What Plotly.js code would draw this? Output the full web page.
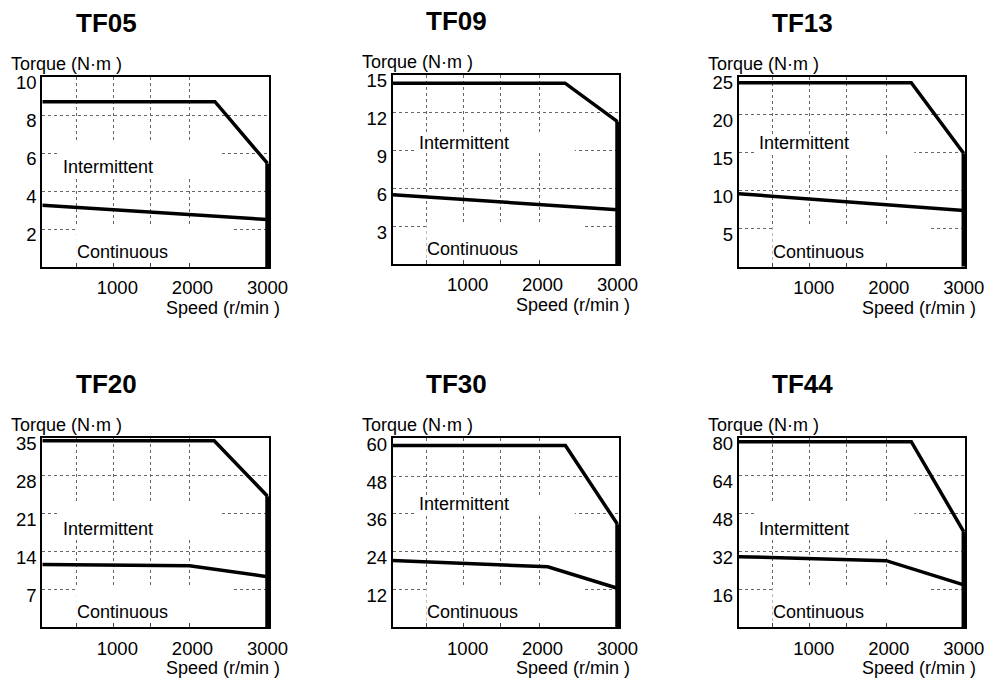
<!DOCTYPE html>
<html>
<head>
<meta charset="utf-8">
<script src="https://cdn.plot.ly/plotly-3.0.1.min.js"></script>
<style>html,body{margin:0;padding:0;background:#fff;}#chart{width:993px;height:680px;}</style>
</head>
<body>
<div id="chart"></div>
<script>
// ---------- data ----------
const models = ['TF05', 'TF09', 'TF13', 'TF20', 'TF30', 'TF44'];
const speedTicks = [1000, 2000, 3000];
const speedTickText = ['1000', '2000', '3000'];
const gridSpeeds = [455, 945, 1440, 1965];
const torqueMax = [10, 15, 25, 35, 60, 80];
const torqueTicks = [
  [2, 4, 6, 8, 10],
  [3, 6, 9, 12, 15],
  [5, 10, 15, 20, 25],
  [7, 14, 21, 28, 35],
  [12, 24, 36, 48, 60],
  [16, 32, 48, 64, 80]
];
const intermittentSpeed = [
  [0, 2300, 3000],
  [0, 2300, 3000],
  [0, 2300, 3000],
  [0, 2290, 3000],
  [0, 2305, 3000],
  [0, 2300, 3000]
];
const intermittentTorque = [
  [8.7, 8.7, 5.45],
  [14.35, 14.35, 11.3],
  [24.2, 24.2, 14.9],
  [34.45, 34.45, 24.2],
  [57.7, 57.7, 32.7],
  [78.3, 78.3, 40.3]
];
const continuousSpeed = [
  [0, 3000],
  [0, 3000],
  [0, 3000],
  [0, 1960, 3000],
  [0, 2070, 3000],
  [0, 1965, 3000]
];
const continuousTorque = [
  [3.25, 2.5],
  [5.5, 4.3],
  [9.6, 7.4],
  [11.6, 11.35, 9.35],
  [21.2, 19.2, 12.4],
  [29.8, 28.1, 17.9]
];
const regionLabels = ['Intermittent', 'Continuous'];
const yAxisLabel = 'Torque (N\u00b7m )';
const xAxisLabel = 'Speed (r/min )';

// ---------- layout helpers (positions only) ----------
const W = 993, H = 680;
const boxes = [ // [left, right, top, bottom] in px
  [42.3, 269, 77, 267],
  [392.7, 619, 75, 264],
  [738.7, 965.3, 76.7, 266.7],
  [42.3, 269, 437.7, 627.3],
  [392.7, 619, 438.3, 627.3],
  [738.7, 965.3, 437.7, 627.3]
];
// intermittent label: [x rpm, y fraction]; mask: [x0, x1, yf0, yf1]
const interPos = [[870, 0.526], [945, 0.64], [867, 0.65], [874, 0.517], [945, 0.652], [867, 0.517]];
const interMask = [[236, 2364, 0.475, 0.668], [325, 2430, 0.587, 0.693], [239, 2341, 0.597, 0.693],
                   [235, 2359, 0.466, 0.654], [325, 2430, 0.59, 0.70], [239, 2341, 0.466, 0.654]];
const contPos = [1065, 0.08];
const contMask = [450, 2550, 0, 0.215];

const FONT = 'Liberation Sans, Arial, sans-serif';
const traces = [];
const shapes = [];
const annotations = [];
const layout = {
  width: W, height: H,
  margin: {l: 0, r: 0, t: 0, b: 0},
  paper_bgcolor: '#fff', plot_bgcolor: '#fff',
  showlegend: false,
  font: {family: FONT, size: 18, color: '#000'},
  shapes: shapes, annotations: annotations
};

models.forEach((name, i) => {
  const n = i + 1;
  const xa = 'x' + (n === 1 ? '' : n), ya = 'y' + (n === 1 ? '' : n);
  const xk = 'xaxis' + (n === 1 ? '' : n), yk = 'yaxis' + (n === 1 ? '' : n);
  const b = boxes[i];
  const ymax = torqueMax[i];
  layout[xk] = {
    domain: [b[0] / W, b[1] / W], anchor: ya,
    range: [0, 3020], fixedrange: true,
    tickmode: 'array', tickvals: speedTicks, ticktext: speedTickText,
    showgrid: false, zeroline: false,
    showline: true, mirror: true, linecolor: '#000', linewidth: 2,
    ticks: '', tickfont: {size: 18.5, family: FONT, color: '#000'},
    ticklabelstandoff: 3,
    minor: {tickmode: 'array', tickvals: gridSpeeds, showgrid: true, gridcolor: '#666', griddash: 'dot',
            gridwidth: 1, ticks: 'inside', ticklen: 4, tickcolor: '#444', tickwidth: 1}
  };
  layout[yk] = {
    domain: [1 - b[3] / H, 1 - b[2] / H], anchor: xa,
    range: [0, ymax], fixedrange: true,
    tickmode: 'array', tickvals: torqueTicks[i],
    showgrid: true, gridcolor: '#666', griddash: 'dot', gridwidth: 1,
    zeroline: false, showline: true, mirror: true, linecolor: '#000', linewidth: 2,
    ticks: '', tickfont: {size: 18.5, family: FONT, color: '#000'},
    ticklabelstandoff: 0, ticklabelshift: 6
  };

  // masks that break the dotted grid around the region labels
  const m = interMask[i];
  shapes.push({type: 'rect', xref: xa, yref: ya, x0: m[0], x1: m[1], y0: m[2] * ymax, y1: m[3] * ymax,
               fillcolor: '#fff', line: {width: 0}, layer: 'between'});
  shapes.push({type: 'rect', xref: xa, yref: ya, x0: contMask[0], x1: contMask[1],
               y0: contMask[2] * ymax, y1: contMask[3] * ymax,
               fillcolor: '#fff', line: {width: 0}, layer: 'between'});

  // intermittent boundary
  traces.push({type: 'scatter', mode: 'lines', xaxis: xa, yaxis: ya,
               x: intermittentSpeed[i], y: intermittentTorque[i],
               line: {color: '#000', width: 3.5}, hoverinfo: 'skip'});
  // max-speed limit (vertical) from intermittent end to zero
  const last = intermittentSpeed[i].length - 1;
  traces.push({type: 'scatter', mode: 'lines', xaxis: xa, yaxis: ya,
               x: [intermittentSpeed[i][last], intermittentSpeed[i][last]],
               y: [intermittentTorque[i][last], 0],
               line: {color: '#000', width: 4.5}, hoverinfo: 'skip'});
  // continuous boundary
  traces.push({type: 'scatter', mode: 'lines', xaxis: xa, yaxis: ya,
               x: continuousSpeed[i], y: continuousTorque[i],
               line: {color: '#000', width: 3.5}, hoverinfo: 'skip'});

  // texts
  annotations.push({xref: xa + ' domain', yref: ya + ' domain', x: 0, y: 1, xshift: 64, yshift: 54,
                    xanchor: 'center', yanchor: 'middle', showarrow: false,
                    text: '<b>' + name + '</b>', font: {size: 26, family: FONT, color: '#000'}});
  annotations.push({xref: xa + ' domain', yref: ya + ' domain', x: 0, y: 1, xshift: -33, yshift: 13,
                    xanchor: 'left', yanchor: 'middle', showarrow: false,
                    text: yAxisLabel, font: {size: 18, family: FONT, color: '#000'}});
  annotations.push({xref: xa + ' domain', yref: ya + ' domain', x: 1, y: 0, xshift: 13, yshift: -41,
                    xanchor: 'right', yanchor: 'middle', showarrow: false,
                    text: xAxisLabel, font: {size: 18, family: FONT, color: '#000'}});
  annotations.push({xref: xa, yref: ya, x: interPos[i][0], y: interPos[i][1] * ymax,
                    xanchor: 'center', yanchor: 'middle', showarrow: false,
                    text: regionLabels[0], font: {size: 18, family: FONT, color: '#000'}});
  annotations.push({xref: xa, yref: ya, x: contPos[0], y: contPos[1] * ymax,
                    xanchor: 'center', yanchor: 'middle', showarrow: false,
                    text: regionLabels[1], font: {size: 18, family: FONT, color: '#000'}});
});

Plotly.newPlot('chart', traces, layout, {displayModeBar: false, staticPlot: true});
</script>
</body>
</html>
